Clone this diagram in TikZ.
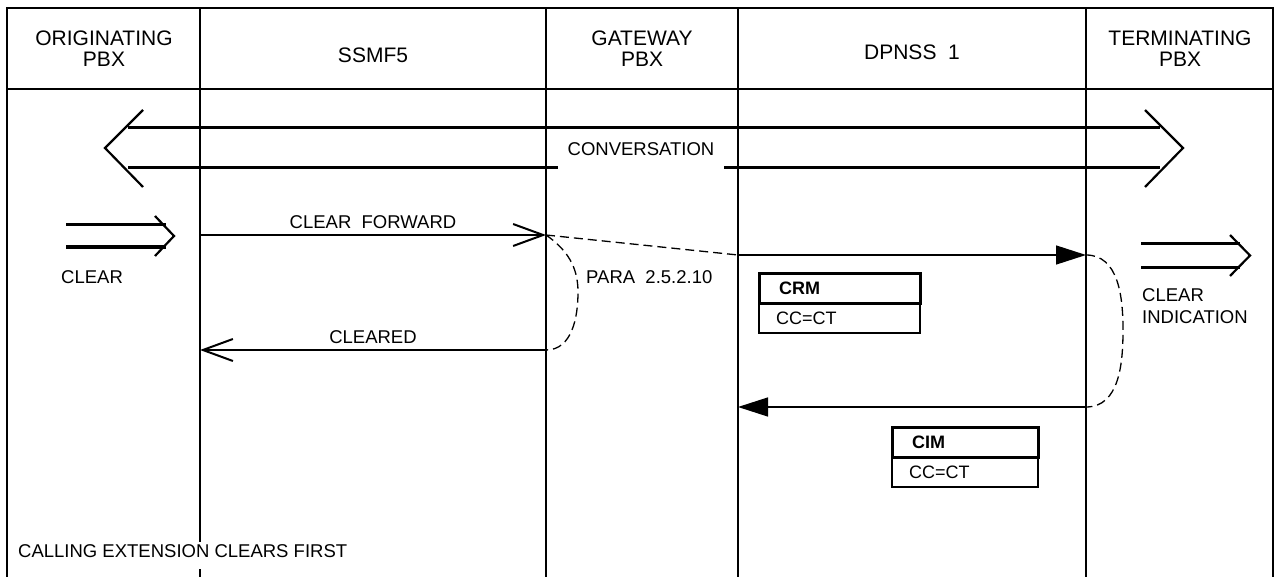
\documentclass[tikz,border=0pt]{standalone}
\usepackage{fontspec}
\setmainfont{Liberation Sans}
\usetikzlibrary{arrows.meta}
\begin{document}
\begin{tikzpicture}[x=1pt,y=-1pt,
  frameline/.style={line width=2pt},
  convline/.style={line width=3pt},
  chevron/.style={line width=2.2pt, line join=miter, line cap=butt},
  msgopen/.style={line width=1.4pt, -{Straight Barb[length=30pt,width=22pt,line width=2pt]}},
  msgfill/.style={line width=1.4pt, -{Triangle[length=30pt,width=19pt]}},
  dashline/.style={line width=1.3pt, dash pattern=on 9pt off 5pt},
  hdr/.style={font=\fontsize{21}{26}\selectfont, anchor=base, inner sep=0pt},
  lbl/.style={font=\fontsize{18.5}{22}\selectfont, inner sep=0pt},
  boxtop/.style={draw, line width=3pt, outer sep=0pt, minimum height=30pt,
    inner xsep=20pt, inner ysep=0pt, align=left, font=\fontsize{18}{22}\selectfont\bfseries},
  boxbot/.style={draw, line width=1.4pt, outer sep=0pt, minimum height=30pt,
    inner xsep=17pt, inner ysep=0pt, align=left, font=\fontsize{18}{22}\selectfont},
]
\useasboundingbox (0,0) rectangle (1281,577);

% frame and lifelines
\coordinate (tl) at (7,8);
\coordinate (tr) at (1273,8);
\coordinate (bl) at (7,577);
\coordinate (br) at (1273,577);
\draw[frameline] (bl) -- (tl) -- (tr) -- (br);
\coordinate (hl) at (7,89);
\coordinate (hr) at (1273,89);
\draw[frameline] (hl) -- (hr);
\coordinate (l1t) at (200,8);   \coordinate (l1b) at (200,577);
\coordinate (l2t) at (546,8);   \coordinate (l2b) at (546,577);
\coordinate (l3t) at (738,8);   \coordinate (l3b) at (738,577);
\coordinate (l4t) at (1086,8);  \coordinate (l4b) at (1086,577);
\draw[frameline] (l1t) -- (l1b);
\draw[frameline] (l2t) -- (l2b);
\draw[frameline] (l3t) -- (l3b);
\draw[frameline] (l4t) -- (l4b);

% headers
\node[hdr] (h1a) at (104,46) {ORIGINATING};
\node[hdr] (h1b) at (104,67) {PBX};
\node[hdr] (h2)  at (373,63) {SSMF5};
\node[hdr] (h3a) at (642,46) {GATEWAY};
\node[hdr] (h3b) at (642,67) {PBX};
\node[hdr] (h4)  at (912,60) {DPNSS\ \ 1};
\node[hdr] (h5a) at (1180,46) {TERMINATING};
\node[hdr] (h5b) at (1180,67) {PBX};

% conversation
\draw[convline] (128,128) -- (1160,128);
\draw[convline] (128,168) -- (1160,168);
\draw[chevron] (143,110) -- (105,148) -- (143,187);
\draw[chevron] (1145,110) -- (1183,148) -- (1145,187);
\node[lbl, anchor=base, fill=white, inner xsep=10pt, inner ysep=2pt, text depth=14pt] (conv) at (641,156) {CONVERSATION};

% clear (left)
\draw[convline] (66,225) -- (166,225);
\draw[convline] (66,247) -- (166,247);
\draw[chevron] (155,216) -- (174,236) -- (155,256);
\node[lbl, anchor=base west] (clr) at (61,283) {CLEAR};

% clear indication (right)
\draw[convline] (1141,244) -- (1240,244);
\draw[convline] (1141,267) -- (1240,267);
\draw[chevron] (1230,235) -- (1250,255.5) -- (1230,276);
\node[lbl, anchor=base west] (ci1) at (1142,301) {CLEAR};
\node[lbl, anchor=base west] (ci2) at (1142,323) {INDICATION};

% messages
\coordinate (ssF) at (200,235);
\coordinate (gwF) at (546,235);
\coordinate (dpA) at (738,255);
\coordinate (tmA) at (1086,255);
\coordinate (gwC) at (546,350);
\coordinate (ssC) at (200,350);
\coordinate (tmR) at (1086,407);
\coordinate (dpR) at (738,407);

\draw[msgopen] (ssF) -- (gwF);
\node[lbl, anchor=base] (cfw) at (373,229) {CLEAR\ \ FORWARD};
\draw[dashline] (gwF) -- (dpA);
\draw[msgfill] (dpA) -- (tmA);
\draw[dashline] (gwF) to[out=-35,in=90] (578,292) to[out=-90,in=0] (gwC);
\node[lbl, anchor=base west] (para) at (586,283) {PARA\ \ 2.5.2.10};
\draw[msgopen] (gwC) -- (ssC);
\node[lbl, anchor=base] (clrd) at (373,343) {CLEARED};

\draw[dashline] (tmA) to[out=0,in=90] (1123,330) to[out=-90,in=0] (tmR);
\draw[msgfill] (tmR) -- (dpR);

% message boxes
\node[boxbot, anchor=north west, minimum width=161pt, text width=127pt] (crmb) at (759,303) {CC=CT};
\node[boxtop, anchor=north west, minimum width=161pt, text width=121pt] (crmt) at (759,273) {CRM};
\node[boxbot, anchor=north west, minimum width=146pt, text width=112pt] (cimb) at (892,457) {CC=CT};
\node[boxtop, anchor=north west, minimum width=146pt, text width=106pt] (cimt) at (892,427) {CIM};

% note
\node[lbl, anchor=base west, fill=white, inner xsep=0pt, inner ysep=2pt, text depth=10pt] (note) at (18,557) {CALLING EXTENSION CLEARS FIRST};
\end{tikzpicture}
\end{document}
